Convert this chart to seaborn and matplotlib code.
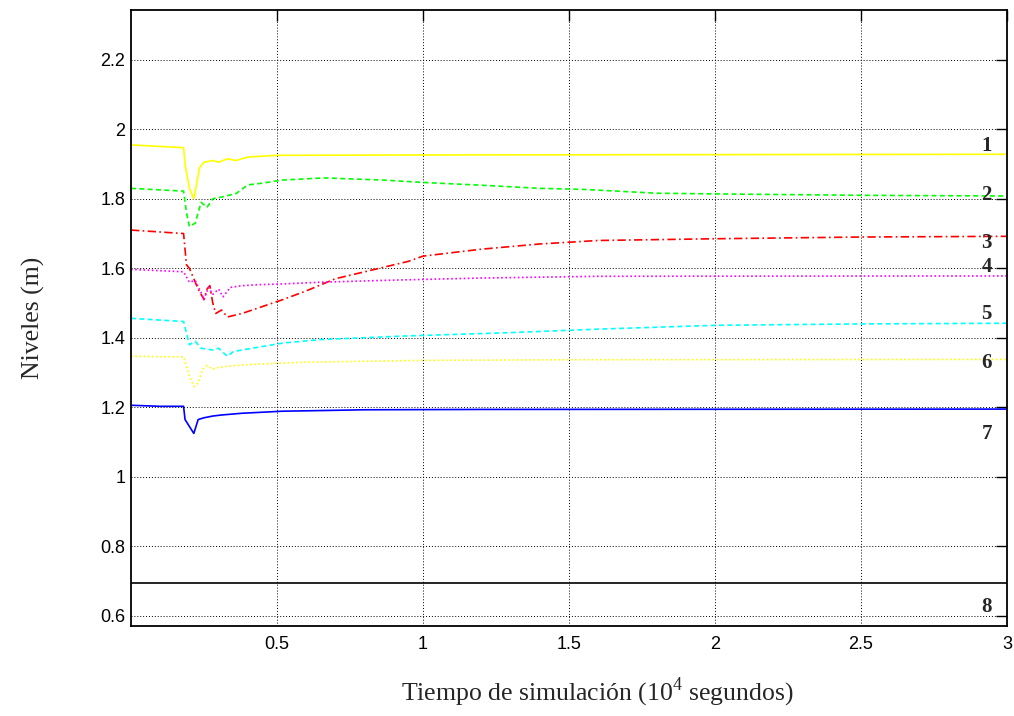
# Niveles de los tanques frente al tiempo de simulación
import numpy as np
import pandas as pd
import seaborn as sns
import matplotlib.pyplot as plt

# ----- datos (t en 10^4 s, nivel en m) -----
t1 = [0, 0.18, 0.185, 0.20, 0.215, 0.235, 0.25, 0.28, 0.30, 0.33, 0.36, 0.40, 0.50, 1.0, 2.0, 3.0]
n1 = [1.955, 1.947, 1.90, 1.83, 1.80, 1.89, 1.905, 1.91, 1.905, 1.915, 1.91, 1.92, 1.925, 1.926, 1.927, 1.928]

t2 = [0, 0.18, 0.19, 0.20, 0.22, 0.24, 0.26, 0.28, 0.31, 0.36, 0.40, 0.45, 0.52, 0.66, 0.86,
      1.0, 1.2, 1.4, 1.55, 1.8, 2.0, 2.5, 3.0]
n2 = [1.83, 1.822, 1.76, 1.72, 1.73, 1.79, 1.775, 1.80, 1.805, 1.815, 1.84, 1.845, 1.854, 1.86, 1.854,
      1.847, 1.839, 1.83, 1.827, 1.816, 1.814, 1.81, 1.808]

t3 = [0, 0.18, 0.19, 0.20, 0.23, 0.25, 0.26, 0.27, 0.28, 0.29, 0.31, 0.33, 0.38, 0.45, 0.52,
      0.60, 0.70, 0.80, 0.95, 1.0, 1.2, 1.4, 1.6, 2.0, 2.5, 3.0]
n3 = [1.71, 1.70, 1.61, 1.60, 1.54, 1.51, 1.54, 1.55, 1.50, 1.47, 1.48, 1.46, 1.47, 1.49, 1.51,
      1.535, 1.57, 1.59, 1.62, 1.635, 1.655, 1.67, 1.68, 1.685, 1.69, 1.692]

t4 = [0, 0.18, 0.20, 0.22, 0.24, 0.25, 0.265, 0.28, 0.30, 0.315, 0.34, 0.38, 0.44, 0.52,
      0.65, 0.9, 1.2, 1.6, 3.0]
n4 = [1.597, 1.59, 1.56, 1.565, 1.53, 1.51, 1.545, 1.525, 1.54, 1.518, 1.545, 1.55, 1.553, 1.555,
      1.56, 1.566, 1.572, 1.577, 1.578]

t5 = [0, 0.18, 0.20, 0.22, 0.24, 0.28, 0.30, 0.33, 0.35, 0.38, 0.45, 0.52, 0.65, 0.93,
      1.3, 1.6, 2.0, 2.5, 3.0]
n5 = [1.456, 1.447, 1.38, 1.39, 1.37, 1.365, 1.37, 1.347, 1.36, 1.365, 1.375, 1.385, 1.395, 1.405,
      1.415, 1.425, 1.436, 1.44, 1.442]

t6 = [0, 0.18, 0.20, 0.215, 0.23, 0.245, 0.26, 0.28, 0.30, 0.35, 0.45, 0.60, 1.0, 1.5, 3.0]
n6 = [1.347, 1.345, 1.29, 1.26, 1.27, 1.31, 1.32, 1.31, 1.315, 1.32, 1.325, 1.33, 1.335, 1.337, 1.338]

t7 = [0, 0.10, 0.18, 0.185, 0.20, 0.215, 0.23, 0.25, 0.28, 0.31, 0.38, 0.45, 0.52, 0.60,
      0.80, 1.2, 3.0]
n7 = [1.206, 1.203, 1.203, 1.165, 1.145, 1.125, 1.165, 1.17, 1.175, 1.178, 1.183, 1.186, 1.189, 1.19,
      1.193, 1.194, 1.195]

t8 = [0, 3.0]
n8 = [0.696, 0.696]

etiquetas = ["1", "2", "3", "4", "5", "6", "7", "8"]
# posición de cada número a la derecha (t, nivel)
etiq_t = [2.93] * 8
etiq_n = [1.951, 1.81, 1.672, 1.603, 1.468, 1.327, 1.122, 0.627]

series = [(t1, n1), (t2, n2), (t3, n3), (t4, n4), (t5, n5), (t6, n6), (t7, n7), (t8, n8)]
colores = ["#ffff00", "#00ff00", "#ff0000", "#ff00ff", "#00ffff", "#ffff00", "#0000ff", "#000000"]
estilos = ["-", (0, (3, 2)), (0, (5, 2, 1, 2)), (0, (1, 1.5)), (0, (3, 2)), (0, (1, 1.5)), "-", "-"]

frames = []
for nombre, (tt, nn) in zip(etiquetas, series):
    frames.append(pd.DataFrame({"t": tt, "nivel": nn, "serie": nombre}))
df = pd.concat(frames, ignore_index=True)

# ----- estilo -----
sns.set_style("white")
plt.rcParams["font.family"] = ["Liberation Sans", "DejaVu Sans"]
plt.rcParams["mathtext.fontset"] = "custom"
plt.rcParams["mathtext.rm"] = "Liberation Serif"

fig = plt.figure(figsize=(10.14, 7.16), dpi=100)
ax = fig.add_axes([0.1292, 0.1257, 0.8639, 0.8603])

for nombre, color, ls in zip(etiquetas, colores, estilos):
    sub = df[df["serie"] == nombre]
    sns.lineplot(data=sub, x="t", y="nivel", color=color, estimator=None,
                 sort=False, linewidth=1.2, ax=ax)
    ax.lines[-1].set_linestyle(ls)

for txt, xt, yt in zip(etiquetas, etiq_t, etiq_n):
    ax.text(xt, yt, txt, fontsize=15, fontweight="bold", family="Liberation Serif",
            ha="center", va="center")

ax.set_xlim(0, 3)
ax.set_ylim(0.571, 2.343)
ax.set_xticks([0.5, 1, 1.5, 2, 2.5, 3])
ax.set_xticklabels(["0.5", "1", "1.5", "2", "2.5", "3"])
ax.set_yticks([0.6, 0.8, 1, 1.2, 1.4, 1.6, 1.8, 2, 2.2])
ax.set_yticklabels(["0.6", "0.8", "1", "1.2", "1.4", "1.6", "1.8", "2", "2.2"])

ax.grid(True, color="black", linestyle=(0, (1, 2)), linewidth=0.7)
ax.tick_params(direction="in", length=8, width=1, top=True, right=True,
               labelsize=13, colors="black")
ax.tick_params(axis="x", pad=7)
ax.tick_params(axis="y", pad=4)
for sp in ax.spines.values():
    sp.set_color("black")
    sp.set_linewidth(1.3)

ax.set_xlabel(r"Tiempo de simulación (10$^{\mathrm{4}}$ segundos)", fontsize=18.5,
              family="Liberation Serif")
ax.set_ylabel("Niveles (m)", fontsize=18.5, family="Liberation Serif")
ax.xaxis.set_label_coords(0.532, -0.08)
ax.yaxis.set_label_coords(-0.098, 0.5)

fig.savefig("out.png", dpi=100)
